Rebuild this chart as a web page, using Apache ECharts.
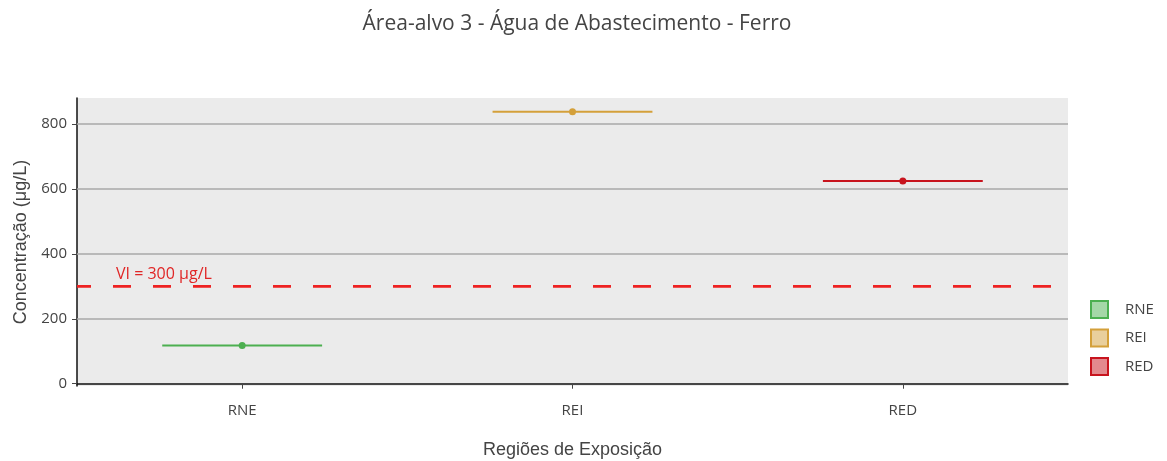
<!DOCTYPE html>
<html><head><meta charset="utf-8">
<script src="https://cdn.jsdelivr.net/npm/echarts@6/dist/echarts.min.js"></script>
<style>html,body{margin:0;padding:0;background:#fff}#c{width:1167px;height:461px}</style>
</head><body><div id="c"></div>
<script>
const categories = ['RNE', 'REI', 'RED'];
const values = [118, 838, 624];
const seriesColors = ['#4caf50', '#d4a03a', '#c8141e'];
const legendFills = ['rgba(76,175,80,0.5)', 'rgba(212,160,58,0.5)', 'rgba(200,20,30,0.5)'];
const yTicks = [0, 200, 400, 600, 800];
const gridLines = [200, 400, 600, 800];
const refValue = 300;
const refLabel = 'VI = 300 μg/L';
const titleText = 'Área-alvo 3 - Água de Abastecimento - Ferro';
const yName = 'Concentração (μg/L)';
const xName = 'Regiões de Exposição';

const chart = echarts.init(document.getElementById('c'), null, {renderer: 'canvas'});

const boxSeries = categories.map((c, i) => ({
  name: c,
  type: 'custom',
  z: 5,
  itemStyle: {color: seriesColors[i]},
  data: [[i, values[i]]],
  renderItem: function (params, api) {
    const p = api.coord([api.value(0), api.value(1)]);
    const bw = api.size([1, 0])[0];
    const half = bw * 0.242;
    return {
      type: 'group',
      children: [
        {type: 'line', shape: {x1: p[0] - half, y1: p[1], x2: p[0] + half, y2: p[1]},
         style: {stroke: seriesColors[i], lineWidth: 2}},
        {type: 'circle', shape: {cx: p[0], cy: p[1], r: 3.5},
         style: {fill: seriesColors[i]}}
      ]
    };
  }
}));

const gridSeries = {
  type: 'line',
  data: [],
  silent: true,
  z: 1,
  markLine: {
    silent: true,
    symbol: 'none',
    label: {show: false},
    lineStyle: {color: '#a8a8a8', width: 1.5, type: 'solid'},
    data: gridLines.map(v => ({yAxis: v}))
  }
};

const refSeries = {
  type: 'custom',
  silent: true,
  z: 3,
  data: [[0, refValue]],
  renderItem: function (params, api) {
    const p = api.coord([0, api.value(1)]);
    const bw = api.size([1, 0])[0];
    const cs = params.coordSys;
    return {
      type: 'group',
      children: [
        {type: 'line', shape: {x1: cs.x, y1: p[1], x2: cs.x + cs.width, y2: p[1]},
         style: {stroke: '#ee2222', lineWidth: 2.7, lineDash: [18, 22], lineDashOffset: 4}},
        {type: 'text', x: p[0] - bw * 0.382, y: p[1] - 4,
         style: {text: refLabel, fill: '#e02626', font: '16px "Open Sans"', textAlign: 'left', textVerticalAlign: 'bottom'}}
      ]
    };
  }
};

chart.setOption({
  animation: false,
  backgroundColor: '#ffffff',
  title: {
    text: titleText,
    left: 572, textAlign: 'center', top: 9,
    textStyle: {fontFamily: 'Open Sans', fontSize: 21, fontWeight: 'normal', color: '#444'}
  },
  legend: {
    orient: 'vertical',
    left: 1090, top: 300, padding: 0,
    itemWidth: 17, itemHeight: 17, itemGap: 9.5,
    icon: 'rect',
    textStyle: {fontFamily: 'Open Sans', fontSize: 15, color: '#444', padding: [0, 0, 0, 12]},
    data: categories.map((c, i) => ({
      name: c,
      itemStyle: {color: legendFills[i], borderColor: seriesColors[i], borderWidth: 2}
    }))
  },
  grid: {left: 77, right: 99, top: 98, bottom: 75, outerBoundsMode: 'none', containLabel: false,
         show: true, backgroundColor: '#ebebeb', borderWidth: 0},
  xAxis: {
    type: 'category',
    data: categories,
    boundaryGap: true,
    name: xName, nameLocation: 'middle', nameGap: 55,
    nameTextStyle: {fontFamily: 'Liberation Sans', fontSize: 18, color: '#444'},
    axisLine: {show: true, lineStyle: {color: '#111', width: 1.5}},
    axisTick: {show: true, alignWithLabel: true, length: 5, lineStyle: {color: '#444'}},
    axisLabel: {fontFamily: 'Open Sans', fontSize: 15, color: '#444', margin: 17},
    splitLine: {show: false}
  },
  yAxis: {
    type: 'value',
    min: -7, max: 880,
    name: yName, nameLocation: 'middle', nameGap: 47, nameRotate: 90,
    nameTextStyle: {fontFamily: 'Liberation Sans', fontSize: 18, color: '#444'},
    axisLine: {show: true, lineStyle: {color: '#111', width: 1.5}},
    axisTick: {show: true, length: 5, customValues: yTicks, lineStyle: {color: '#444'}},
    axisLabel: {fontFamily: 'Open Sans', fontSize: 15, color: '#444', margin: 10, customValues: yTicks},
    splitLine: {show: false}
  },
  series: [gridSeries, refSeries].concat(boxSeries)
});
</script></body></html>
